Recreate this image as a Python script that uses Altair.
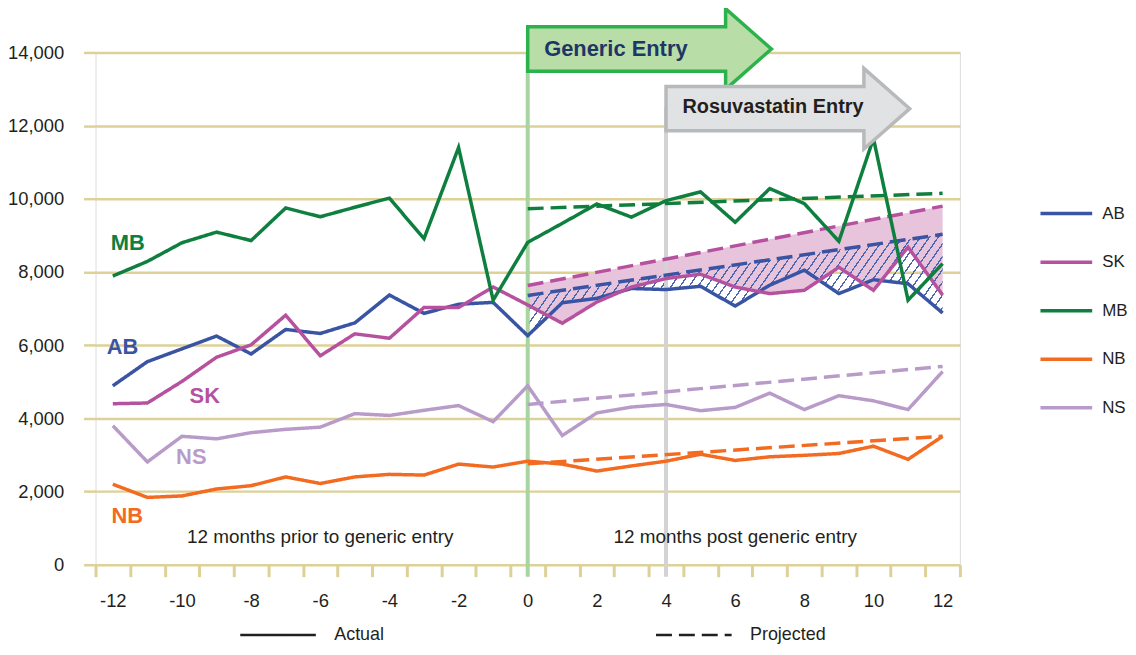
import math
import altair as alt
import pandas as pd

# ---------------- data ----------------
months = list(range(-12, 13))
regions = ["AB", "SK", "MB", "NB", "NS"]
region_colors = ["#3a54a4", "#b5519f", "#0e7f3e", "#f36b21", "#b99bca"]

ab = [4890, 5550, 5900, 6250, 5760, 6430, 6320, 6610, 7370, 6870, 7120, 7170, 6260,
      7160, 7280, 7550, 7520, 7610, 7070, 7640, 8050, 7410, 7790, 7680, 6880]
sk = [4400, 4420, 5010, 5670, 6010, 6820, 5710, 6310, 6190, 7030, 7030, 7590, 7100,
      6600, 7180, 7590, 7820, 7940, 7590, 7410, 7500, 8130, 7500, 8680, 7370]
mb = [7890, 8290, 8800, 9090, 8860, 9750, 9510, 9770, 10020, 8910, 11400, 7230, 8810,
      9330, 9860, 9500, 9950, 10190, 9360, 10280, 9870, 8840, 11650, 7230, 8230]
nb = [2200, 1840, 1880, 2070, 2160, 2400, 2220, 2400, 2470, 2450, 2750, 2670, 2830,
      2750, 2560, 2700, 2830, 3020, 2850, 2950, 2990, 3040, 3240, 2880, 3510]
ns = [3800, 2810, 3510, 3440, 3610, 3700, 3760, 4130, 4080, 4220, 4350, 3910, 4890,
      3530, 4150, 4310, 4380, 4210, 4300, 4690, 4240, 4620, 4480, 4240, 5280]
actual = {"AB": ab, "SK": sk, "MB": mb, "NB": nb, "NS": ns}

# projected trend lines: start (month 0) and end (month 12)
proj_months = [0, 12]
projected = {"AB": [7360, 9030], "SK": [7630, 9800], "MB": [9730, 10150],
             "NB": [2760, 3510], "NS": [4380, 5420]}

kinds = ["Actual", "Projected"]
x_label_values = list(range(-12, 13, 2))
y_tick_values = list(range(0, 14001, 2000))

events = ["Generic Entry", "Rosuvastatin Entry"]
event_months = [0, 4]
periods = ["12 months prior to generic entry", "12 months post generic entry"]
period_centers = [-6, 6]

series_labels = ["MB", "AB", "SK", "NS", "NB"]
series_label_month = [-11.57, -11.72, -9.34, -9.73, -11.58]
series_label_value = [8790, 5950, 4620, 2935, 1330]

# ---------------- layout / style ----------------
W, H = 869, 515
FONT = "Liberation Sans, Arial, sans-serif"
TXT = "#231f20"
TAN = "#ddd197"
PINK = "#e8c4dc"
HATCH = "#4a66b0"
color_of = dict(zip(regions, region_colors))

rows = []
for r in regions:
    for m, v in zip(months, actual[r]):
        rows.append(dict(region=r, month=m, value=v, kind="Actual"))
    for m, v in zip(proj_months, projected[r]):
        rows.append(dict(region=r, month=m, value=v, kind="Projected"))
df = pd.DataFrame(rows)

post = pd.DataFrame({"month": months[12:], "ab": ab[12:], "sk": sk[12:]})

x_scale = alt.Scale(domain=[-12.5, 12.5], nice=False, zero=False)
y_scale = alt.Scale(domain=[0, 14000], nice=False, zero=True)

band_px = W / 25.0
x_axis = alt.Axis(
    values=[m - 0.5 for m in months] + [12.5],
    labelExpr="((datum.value + 0.5) % 2 === 0) ? '' + (datum.value + 0.5) : ''",
    labelOffset=band_px / 2, labelFlush=False, labelOverlap=False,
    domain=False, grid=False, ticks=True, tickSize=12, tickColor=TAN, tickWidth=3,
    labelFont=FONT, labelFontSize=18.5, labelColor=TXT, labelPadding=15, title=None)
y_axis = alt.Axis(
    values=y_tick_values, format=",d", domain=False, grid=True, gridColor=TAN,
    gridWidth=2.5, ticks=True, tickSize=12, tickColor=TAN, tickWidth=2.5,
    labelFont=FONT, labelFontSize=18.5, labelColor=TXT, labelPadding=20, title=None)


def X(field):
    return alt.X(field, scale=x_scale, axis=x_axis, title=None)


def Y(field):
    return alt.Y(field, scale=y_scale, axis=y_axis, title=None)


def proj_expr(r):
    p0, p1 = projected[r]
    return f"{p0} + ({p1} - {p0}) * datum.month / 12"


# pink band between SK projected and SK actual
pink = alt.Chart(post).transform_calculate(sk_proj=proj_expr("SK")).mark_area(
    fill=PINK, opacity=1, strokeWidth=0
).encode(x=X("month:Q"), y=Y("sk:Q"), y2="sk_proj:Q")

# hatched band between AB projected and AB actual (striped gradient)
py = H / 14000.0
bw = 12 * band_px
bh = (projected["AB"][1] - min(ab[12:])) * py
alpha = math.radians(55)
nx, ny = math.sin(alpha), math.cos(alpha)
k = (nx * bw + ny * bh) / ((nx * bw) ** 2 + (ny * bh) ** 2)
gx, gy = nx * bw * k, ny * bh * k
extent = nx * bw + ny * bh
spacing = 9 * math.sin(alpha)
lw = 1.3
n = int(extent / spacing) + 1
clear = "rgba(74,102,176,0)"
stops = []
for i in range(n):
    a = i * spacing / extent
    b = min(1.0, (i * spacing + lw) / extent)
    if a >= 1:
        break
    stops += [{"offset": a, "color": clear}, {"offset": a, "color": HATCH},
              {"offset": b, "color": HATCH}, {"offset": b, "color": clear}]
hatch_fill = {"gradient": "linear", "x1": 0, "y1": 0, "x2": gx, "y2": gy, "stops": stops}

hatch = alt.Chart(post).transform_calculate(ab_proj=proj_expr("AB")).mark_area(
    fill=hatch_fill, opacity=1, strokeWidth=0
).encode(x=X("month:Q"), y=Y("ab:Q"), y2="ab_proj:Q")

ev = pd.DataFrame({"event": events, "month": event_months})
rule_green = alt.Chart(ev).transform_filter(alt.datum.event == events[0]).mark_rule(
    color="#a6d5a0", strokeWidth=4
).encode(x=X("month:Q"), y=alt.datum(14000), y2=alt.value(H + 12))
rule_grey = alt.Chart(ev).transform_filter(alt.datum.event == events[1]).mark_rule(
    color="#d3d3d3", strokeWidth=4
).encode(x=X("month:Q"), y=alt.datum(12500), y2=alt.value(H + 12))

lines = alt.Chart(df).mark_line(strokeWidth=3.5, strokeCap="butt").encode(
    x=X("month:Q"),
    y=Y("value:Q"),
    color=alt.Color("region:N", scale=alt.Scale(domain=regions, range=region_colors),
                    legend=alt.Legend(orient="none", legendX=948, legendY=134, title=None,
                                      symbolType="stroke", symbolSize=2704,
                                      symbolStrokeWidth=3.5, labelFont=FONT,
                                      labelFontSize=17, labelColor=TXT, labelOffset=8,
                                      rowPadding=12.8, padding=0)),
    strokeDash=alt.StrokeDash("kind:N", scale=alt.Scale(domain=kinds, range=[[1, 0], [16, 7]]),
                              legend=alt.Legend(orient="none", direction="horizontal",
                                                legendX=144, legendY=546, title=None,
                                                symbolType="stroke", symbolSize=5776,
                                                symbolStrokeWidth=2.5,
                                                symbolStrokeColor=TXT, labelFont=FONT,
                                                labelFontSize=18, labelColor=TXT,
                                                labelOffset=17, columnPadding=267,
                                                padding=0)),
    order="month:Q",
)

lab = pd.DataFrame({"label": series_labels, "month": series_label_month,
                    "value": series_label_value,
                    "hex": [color_of[s] for s in series_labels]})
labels = alt.Chart(lab).mark_text(font=FONT, fontSize=22, fontWeight="bold",
                                  align="center", baseline="middle").encode(
    x=X("month:Q"), y=Y("value:Q"), text="label:N",
    color=alt.Color("hex:N", scale=None))

per = pd.DataFrame({"text": periods, "month": period_centers})
period_text = alt.Chart(per).mark_text(font=FONT, fontSize=19, color=TXT,
                                       align="center", baseline="middle", dy=-28).encode(
    x=X("month:Q"), y=alt.datum(0), text="text:N")

ARROW = "M -1 -0.182 L 0.624 -0.182 L 0.624 -0.331 L 1 0 L 0.624 0.331 L 0.624 0.182 L -1 0.182 Z"
arrow_styles = [dict(fill="#b9dda7", stroke="#2bb24c", yoff=-3.5, tcolor="#1f3566", tsize=22, tdy=-3),
                dict(fill="#e1e2e4", stroke="#b8b9bb", yoff=56.5, tcolor=TXT, tsize=20, tdy=55)]
arrow_layers = []
for i, e in enumerate(events):
    st = arrow_styles[i]
    base = alt.Chart(ev).transform_filter(alt.datum.event == e)
    arrow_layers.append(base.mark_point(
        shape=ARROW, size=245 ** 2, filled=True, fill=st["fill"], stroke=st["stroke"],
        strokeWidth=3.5, opacity=1, xOffset=122.5, yOffset=st["yoff"]
    ).encode(x=X("month:Q"), y=alt.datum(14000)))
    arrow_layers.append(base.mark_text(
        font=FONT, fontSize=st["tsize"], fontWeight="bold", color=st["tcolor"],
        align="left", baseline="middle", dx=16.5, dy=st["tdy"]
    ).encode(x=X("month:Q"), y=alt.datum(14000), text="event:N"))

chart = alt.layer(pink, hatch, rule_green, rule_grey, lines, labels, period_text,
                  *arrow_layers).properties(
    width=W, height=H,
    autosize=alt.AutoSizeParams(type="none"),
    padding={"left": 88, "top": 43, "right": 169, "bottom": 81},
).configure_view(stroke=TAN, strokeWidth=3).configure(background="white")

chart.save("out.html", embed_options={"renderer": "svg", "actions": False})
